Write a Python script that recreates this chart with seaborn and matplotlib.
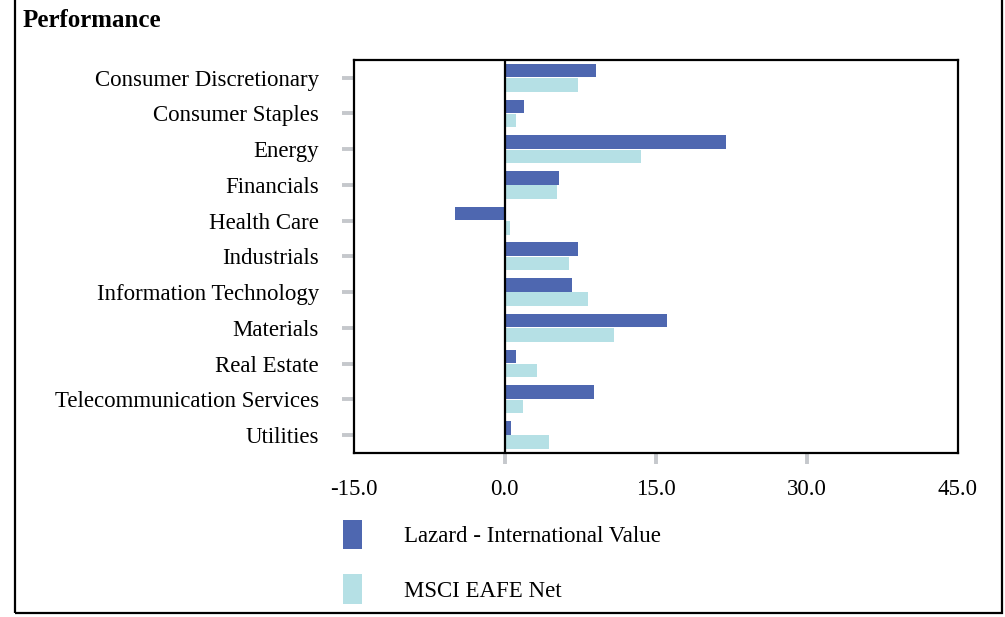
import pandas as pd
import matplotlib.pyplot as plt
import matplotlib as mpl
import seaborn as sns
from matplotlib.patches import Rectangle

sectors = ['Consumer Discretionary', 'Consumer Staples', 'Energy', 'Financials',
           'Health Care', 'Industrials', 'Information Technology', 'Materials',
           'Real Estate', 'Telecommunication Services', 'Utilities']
lazard = [9.1, 1.9, 22.0, 5.4, -4.9, 7.3, 6.7, 16.1, 1.1, 8.9, 0.6]
msci = [7.3, 1.1, 13.5, 5.2, 0.5, 6.4, 8.3, 10.9, 3.2, 1.8, 4.4]
series = ['Lazard - International Value', 'MSCI EAFE Net']
xticks = [-15.0, 0.0, 15.0, 30.0, 45.0]

df = pd.DataFrame({
    'Sector': sectors * 2,
    'Return': lazard + msci,
    'Series': [series[0]] * len(sectors) + [series[1]] * len(sectors),
})

sns.set_style('white')
plt.rcParams['font.family'] = ['Liberation Serif', 'DejaVu Serif']
plt.rcParams['text.color'] = 'black'
plt.rcParams['xtick.labelcolor'] = 'black'
plt.rcParams['ytick.labelcolor'] = 'black'

fs = 16.5
fig = plt.figure(figsize=(10.05, 6.17), dpi=100)
ax = fig.add_axes([0.352, 0.266, 0.601, 0.637])

sns.barplot(data=df, y='Sector', x='Return', hue='Series', orient='h',
            palette=['#4E67B0', '#B5E0E5'], saturation=1, width=0.8, gap=0.05,
            linewidth=0, ax=ax)

ax.axvline(0, color='black', lw=1.6, zorder=3)
ax.set_xlim(-15, 45)
ax.set_xticks(xticks)
ax.set_xticklabels([f'{t:.1f}' for t in xticks], fontsize=fs)
ax.set_yticks(range(len(sectors)))
ax.set_yticklabels(sectors, fontsize=fs)
ax.set_xlabel('')
ax.set_ylabel('')
for s in ax.spines.values():
    s.set_color('black')
    s.set_linewidth(1.6)
ax.tick_params(axis='y', length=8.6, width=2.8, color='#c5c8cc', pad=16.5, left=True)
ax.tick_params(axis='x', length=8, width=2.8, color='#c5c8cc', pad=11, bottom=True)
# outer ticks sit on the frame corners in the original and are not drawn
xt = ax.xaxis.get_major_ticks()
xt[0].tick1line.set_visible(False)
xt[-1].tick1line.set_visible(False)

ax.legend(loc='upper left', bbox_to_anchor=(0.341, 0.158), bbox_transform=fig.transFigure,
          frameon=False, fontsize=fs, handlelength=0.83, handleheight=1.62,
          handletextpad=1.85, labelspacing=1.1, borderpad=0, borderaxespad=0)

fig.text(0.022, 0.967, 'Performance', fontsize=18, fontweight='bold', va='center')
fig.patches.append(Rectangle((0.015, 0.007), 0.982, 1.0, transform=fig.transFigure,
                             fill=False, edgecolor='black', lw=1.6))

plt.savefig('out.png', dpi=100)
